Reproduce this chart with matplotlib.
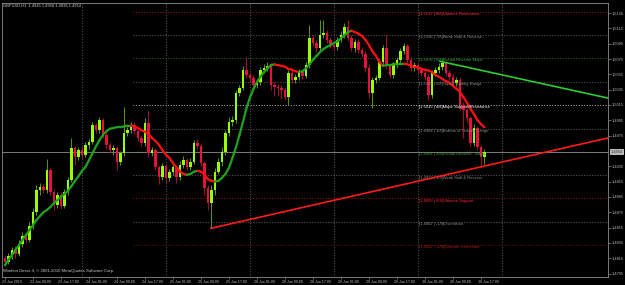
import matplotlib
matplotlib.use("Agg")
import matplotlib.pyplot as plt
from matplotlib.patches import Rectangle
from matplotlib.collections import LineCollection
from matplotlib.transforms import ScaledTranslation

plt.rcParams["font.family"] = ["Liberation Sans", "DejaVu Sans"]

symbol_title = "GBPUSD,H1  1.4945 1.4958 1.4938 1.4954"
copyright_text = "Windsor Direct 4, \u00a9 2001-2010 MetaQuotes Software Corp."

opens = [1.4815,1.4810,1.4818,1.4826,1.4821,1.4834,1.4844,1.4839,1.4857,1.4875,
 1.4904,1.4908,1.4904,1.4930,1.4901,1.4884,1.4898,1.4883,1.4901,1.4917,
 1.4959,1.4947,1.4956,1.4950,1.4963,1.4967,1.4989,1.4982,1.4995,1.4976,
 1.4963,1.4956,1.4959,1.4941,1.4952,1.4978,1.4982,1.4989,1.4981,1.4972,
 1.4965,1.4991,1.4952,1.4956,1.4934,1.4921,1.4935,1.4920,1.4928,1.4934,
 1.4921,1.4937,1.4943,1.4934,1.4941,1.4965,1.4961,1.4939,1.4907,1.4887,
 1.4904,1.4928,1.4941,1.4954,1.4978,1.4993,1.4995,1.5031,1.5037,1.5061,
 1.5054,1.5050,1.5041,1.5045,1.5061,1.5063,1.5066,1.5041,1.5038,1.5037,
 1.5035,1.5025,1.5057,1.5048,1.5052,1.5058,1.5053,1.5067,1.5102,1.5096,
 1.5089,1.5106,1.5109,1.5100,1.5093,1.5091,1.5100,1.5106,1.5117,1.5102,
 1.5089,1.5097,1.5087,1.5082,1.5063,1.5031,1.5048,1.5050,1.5071,1.5089,
 1.5067,1.5054,1.5067,1.5074,1.5085,1.5092,1.5074,1.5063,1.5067,1.5061,
 1.5057,1.5052,1.5028,1.5057,1.5061,1.5065,1.5070,1.5057,1.5052,1.5044,
 1.5048,1.5015,1.5008,1.4998,1.4965,1.4985,1.4960,1.4947]
highs = [1.4819,1.4822,1.4830,1.4831,1.4839,1.4849,1.4848,1.4862,1.4881,1.4910,
 1.4913,1.4912,1.4944,1.4933,1.4905,1.4902,1.4901,1.4905,1.4921,1.4972,
 1.4962,1.4960,1.4961,1.4967,1.4971,1.4993,1.4992,1.4999,1.4998,1.4980,
 1.4967,1.4963,1.4962,1.4955,1.5012,1.4986,1.4993,1.4993,1.4984,1.4976,
 1.4998,1.5007,1.4960,1.4959,1.4937,1.4939,1.4938,1.4932,1.4940,1.4937,
 1.4942,1.4949,1.4946,1.4946,1.4969,1.4970,1.4964,1.4942,1.4910,1.4910,
 1.4933,1.4946,1.4960,1.4982,1.4999,1.5000,1.5035,1.5041,1.5066,1.5078,
 1.5058,1.5054,1.5049,1.5065,1.5068,1.5071,1.5070,1.5045,1.5043,1.5041,
 1.5039,1.5061,1.5061,1.5056,1.5062,1.5062,1.5071,1.5119,1.5106,1.5100,
 1.5126,1.5126,1.5113,1.5104,1.5097,1.5104,1.5111,1.5122,1.5126,1.5106,
 1.5101,1.5101,1.5091,1.5085,1.5067,1.5052,1.5054,1.5075,1.5093,1.5106,
 1.5070,1.5071,1.5078,1.5089,1.5096,1.5095,1.5077,1.5071,1.5070,1.5065,
 1.5061,1.5055,1.5061,1.5065,1.5070,1.5074,1.5073,1.5061,1.5056,1.5052,
 1.5051,1.5019,1.5011,1.5001,1.4990,1.4988,1.4963,1.4958]
lows = [1.4805,1.4807,1.4814,1.4815,1.4818,1.4830,1.4835,1.4836,1.4853,1.4872,
 1.4898,1.4900,1.4900,1.4897,1.4878,1.4880,1.4879,1.4880,1.4898,1.4914,
 1.4937,1.4943,1.4945,1.4947,1.4958,1.4964,1.4978,1.4979,1.4972,1.4958,
 1.4952,1.4950,1.4930,1.4937,1.4949,1.4974,1.4979,1.4977,1.4968,1.4961,
 1.4962,1.4947,1.4948,1.4930,1.4912,1.4917,1.4913,1.4916,1.4924,1.4913,
 1.4917,1.4933,1.4930,1.4930,1.4938,1.4957,1.4935,1.4898,1.4878,1.4854,
 1.4898,1.4925,1.4936,1.4950,1.4974,1.4988,1.4991,1.5027,1.5034,1.5050,
 1.5045,1.5037,1.5037,1.5041,1.5057,1.5059,1.5034,1.5027,1.5027,1.5024,
 1.5021,1.5015,1.5044,1.5044,1.5048,1.5049,1.5050,1.5063,1.5092,1.5084,
 1.5086,1.5102,1.5096,1.5089,1.5087,1.5087,1.5097,1.5103,1.5098,1.5085,
 1.5084,1.5083,1.5078,1.5058,1.5024,1.5011,1.5044,1.5047,1.5067,1.5063,
 1.5050,1.5050,1.5063,1.5071,1.5081,1.5070,1.5059,1.5059,1.5057,1.5053,
 1.5048,1.5022,1.5024,1.5053,1.5057,1.5061,1.5053,1.5048,1.5039,1.5040,
 1.5008,1.4972,1.4993,1.4961,1.4962,1.4956,1.4934,1.4938]
closes = opens[1:] + [1.4954]

ma_values = [1.4806,1.4813,1.4819,1.4826,1.4832,1.4839,1.4845,1.4852,1.4858,1.4865,
 1.4870,1.4875,1.4878,1.4882,1.4887,1.4891,1.4895,1.4899,1.4903,1.4909,
 1.4916,1.4922,1.4929,1.4934,1.4943,1.4952,1.4961,1.4969,1.4976,1.4981,
 1.4984,1.4985,1.4986,1.4986,1.4987,1.4988,1.4988,1.4987,1.4985,1.4982,
 1.4980,1.4977,1.4972,1.4968,1.4963,1.4956,1.4950,1.4946,1.4939,1.4934,
 1.4928,1.4925,1.4924,1.4925,1.4928,1.4929,1.4928,1.4924,1.4918,1.4916,
 1.4915,1.4916,1.4920,1.4925,1.4933,1.4946,1.4960,1.4976,1.4993,1.5011,
 1.5025,1.5036,1.5045,1.5052,1.5058,1.5063,1.5067,1.5068,1.5067,1.5066,
 1.5065,1.5062,1.5061,1.5059,1.5058,1.5059,1.5063,1.5068,1.5074,1.5079,
 1.5084,1.5088,1.5091,1.5093,1.5096,1.5098,1.5102,1.5106,1.5110,1.5112,
 1.5110,1.5108,1.5105,1.5100,1.5093,1.5085,1.5079,1.5071,1.5066,1.5067,
 1.5067,1.5068,1.5068,1.5069,1.5069,1.5068,1.5066,1.5065,1.5064,1.5062,
 1.5061,1.5060,1.5058,1.5054,1.5052,1.5049,1.5046,1.5044,1.5040,1.5036,
 1.5032,1.5025,1.5018,1.5010,1.5003,1.4995,1.4990,1.4986]

date_labels = ["23 Jun 2010", "23 Jun 09:00", "23 Jun 17:00", "24 Jun 01:00",
 "24 Jun 09:00", "24 Jun 17:00", "25 Jun 01:00", "25 Jun 09:00", "25 Jun 17:00",
 "28 Jun 01:00", "28 Jun 09:00", "28 Jun 17:00", "29 Jun 01:00", "29 Jun 09:00",
 "29 Jun 17:00", "30 Jun 01:00", "30 Jun 09:00", "30 Jun 17:00"]
price_ticks = [1.5135, 1.5115, 1.5095, 1.5075, 1.5055, 1.5035, 1.5015, 1.4995,
 1.4975, 1.4935, 1.4915, 1.4895, 1.4875, 1.4855, 1.4835, 1.4815, 1.4795]
bid_price = 1.4954

mm_prices = [1.5137, 1.5106, 1.5076, 1.5045, 1.5015, 1.4984, 1.4954, 1.4923, 1.4893, 1.4862, 1.4832]
mm_labels = ["[1.5137 | 8/8]Ultimate Resistance", "[1.5106 | 7/8]Weak Stall & Reverse",
 "[1.5076 | 6/8]Pivotal Reverse Major", "[1.5045 | 5/8]Top of Trading Range",
 "[1.5015 | 4/8]Major Support/Resistance", "[1.4984 | 3/8]Bottom of Trading Range",
 "[1.4954 | 2/8]Pivotal Reverse - Major", "[1.4923 | 1/8]Weak Stall & Reverse",
 "[1.4893 | 0/8]Ultimate Support", "[1.4862 | -1/8]Overshoot",
 "[1.4832 | -2/8]Extreme Overshoot"]
mm_line_colors = ["#b01020", "#6a6a6a", "#2a7a2a", "#6a6a6a", "#c8c8c8", "#6a6a6a",
 "#2a7a2a", "#6a6a6a", "#b01020", "#6a6a6a", "#8a1010"]
mm_text_colors = ["#ff3040", "#8a8a8a", "#40a040", "#8a8a8a", "#ffffff", "#8a8a8a",
 "#40a040", "#8a8a8a", "#ff2030", "#8a8a8a", "#b01818"]
mm_start_bar = 36.6
mm_text_bar = 118.3

green_trend = ([124.3, 172.3], [1.5072, 1.5024])
red_trend = ([58.8, 172.3], [1.4854, 1.4972])
grid_bars = [22, 46, 70, 94, 118, 142]

# ---------------------------------------------------------------
W, H = 625, 285
fig = plt.figure(figsize=(W / 100, H / 100), dpi=100, facecolor="black")
ax = fig.add_axes([2 / W, 8 / H, 606 / W, 274 / H])
ax.set_facecolor("black")
ax.set_xlim(-0.857, 172.29)
ax.set_ylim(1.47905, 1.51481)

for s in ax.spines.values():
    s.set_color("#8c8c8c")
    s.set_linewidth(0.6)

bull_body, bear_body = "#99ff00", "#e8103c"
bull_wick, bear_wick = "#5a9a00", "#a8102a"
bw = 0.72
for i, (o, h, l, c) in enumerate(zip(opens, highs, lows, closes)):
    up = c >= o
    ax.vlines(i, l, h, color=bull_wick if up else bear_wick, lw=0.7, zorder=3)
    lo, hi = min(o, c), max(o, c)
    ax.add_patch(Rectangle((i - bw / 2, lo), bw, max(hi - lo, 0.00004),
                           facecolor=bull_body if up else bear_body,
                           edgecolor="none", zorder=4))

segs, cols = [], []
prev_col = "#1fa31f"
for i in range(1, len(ma_values)):
    d = ma_values[i] - ma_values[i - 1]
    col = "#1fa31f" if d > 0 else ("#ff1010" if d < 0 else prev_col)
    prev_col = col
    segs.append([(i - 1, ma_values[i - 1]), (i, ma_values[i])])
    cols.append(col)
ax.add_collection(LineCollection(segs, colors=cols, linewidths=1.6, zorder=6,
                                 capstyle="round"))

for gb in grid_bars:
    ax.axvline(gb, color="#6e6e6e", lw=0.6, ls=(0, (1.2, 2.0)), zorder=1)

for p, lab, lc, tc in zip(mm_prices, mm_labels, mm_line_colors, mm_text_colors):
    ax.plot([mm_start_bar, 173], [p, p], color=lc, lw=0.6, ls=(0, (1.2, 2.0)), zorder=2)
    ax.text(mm_text_bar, p - 0.00002, lab, color=tc, fontsize=3.0, va="top",
            ha="left", zorder=7)

ax.axhline(bid_price, color="#7a7a7a", lw=0.7, zorder=2)

ax.plot(*green_trend, color="#2ecc2e", lw=1.2, zorder=8)
ax.plot(*red_trend, color="#ff1a1a", lw=1.2, zorder=8)

ax.yaxis.tick_right()
ax.set_yticks(price_ticks)
ax.set_yticklabels([f"{p:.4f}" for p in price_ticks])
ax.tick_params(axis="y", colors="#8c8c8c", labelcolor="#c0c0c0", labelsize=2.8,
               length=2, width=0.5, pad=1.0)
ax.set_xticks([8 * k for k in range(len(date_labels))])
ax.set_xticklabels(date_labels, ha="left")
ax.tick_params(axis="x", colors="#8c8c8c", labelcolor="#c0c0c0", labelsize=2.6,
               length=1.5, width=0.5, pad=0.8)
for t in ax.get_xticklabels():
    t.set_transform(t.get_transform() + ScaledTranslation(-3 / 100, 0, fig.dpi_scale_trans))

ax.text(1.005, bid_price, f"{bid_price:.4f}", transform=ax.get_yaxis_transform(),
        fontsize=2.8, color="#303030", va="center", ha="left", zorder=10,
        bbox=dict(boxstyle="square,pad=0.2", facecolor="#b8b8b8", edgecolor="none"),
        clip_on=False)

fig.text(3 / W, 1 - 6 / H, symbol_title, color="#c8c8c8", fontsize=2.9, va="center", ha="left")
fig.text(3 / W, 1 - 271 / H, copyright_text, color="#c8c8c8", fontsize=3.1, va="center", ha="left")

fig.savefig("out.png", dpi=100, facecolor="black")
